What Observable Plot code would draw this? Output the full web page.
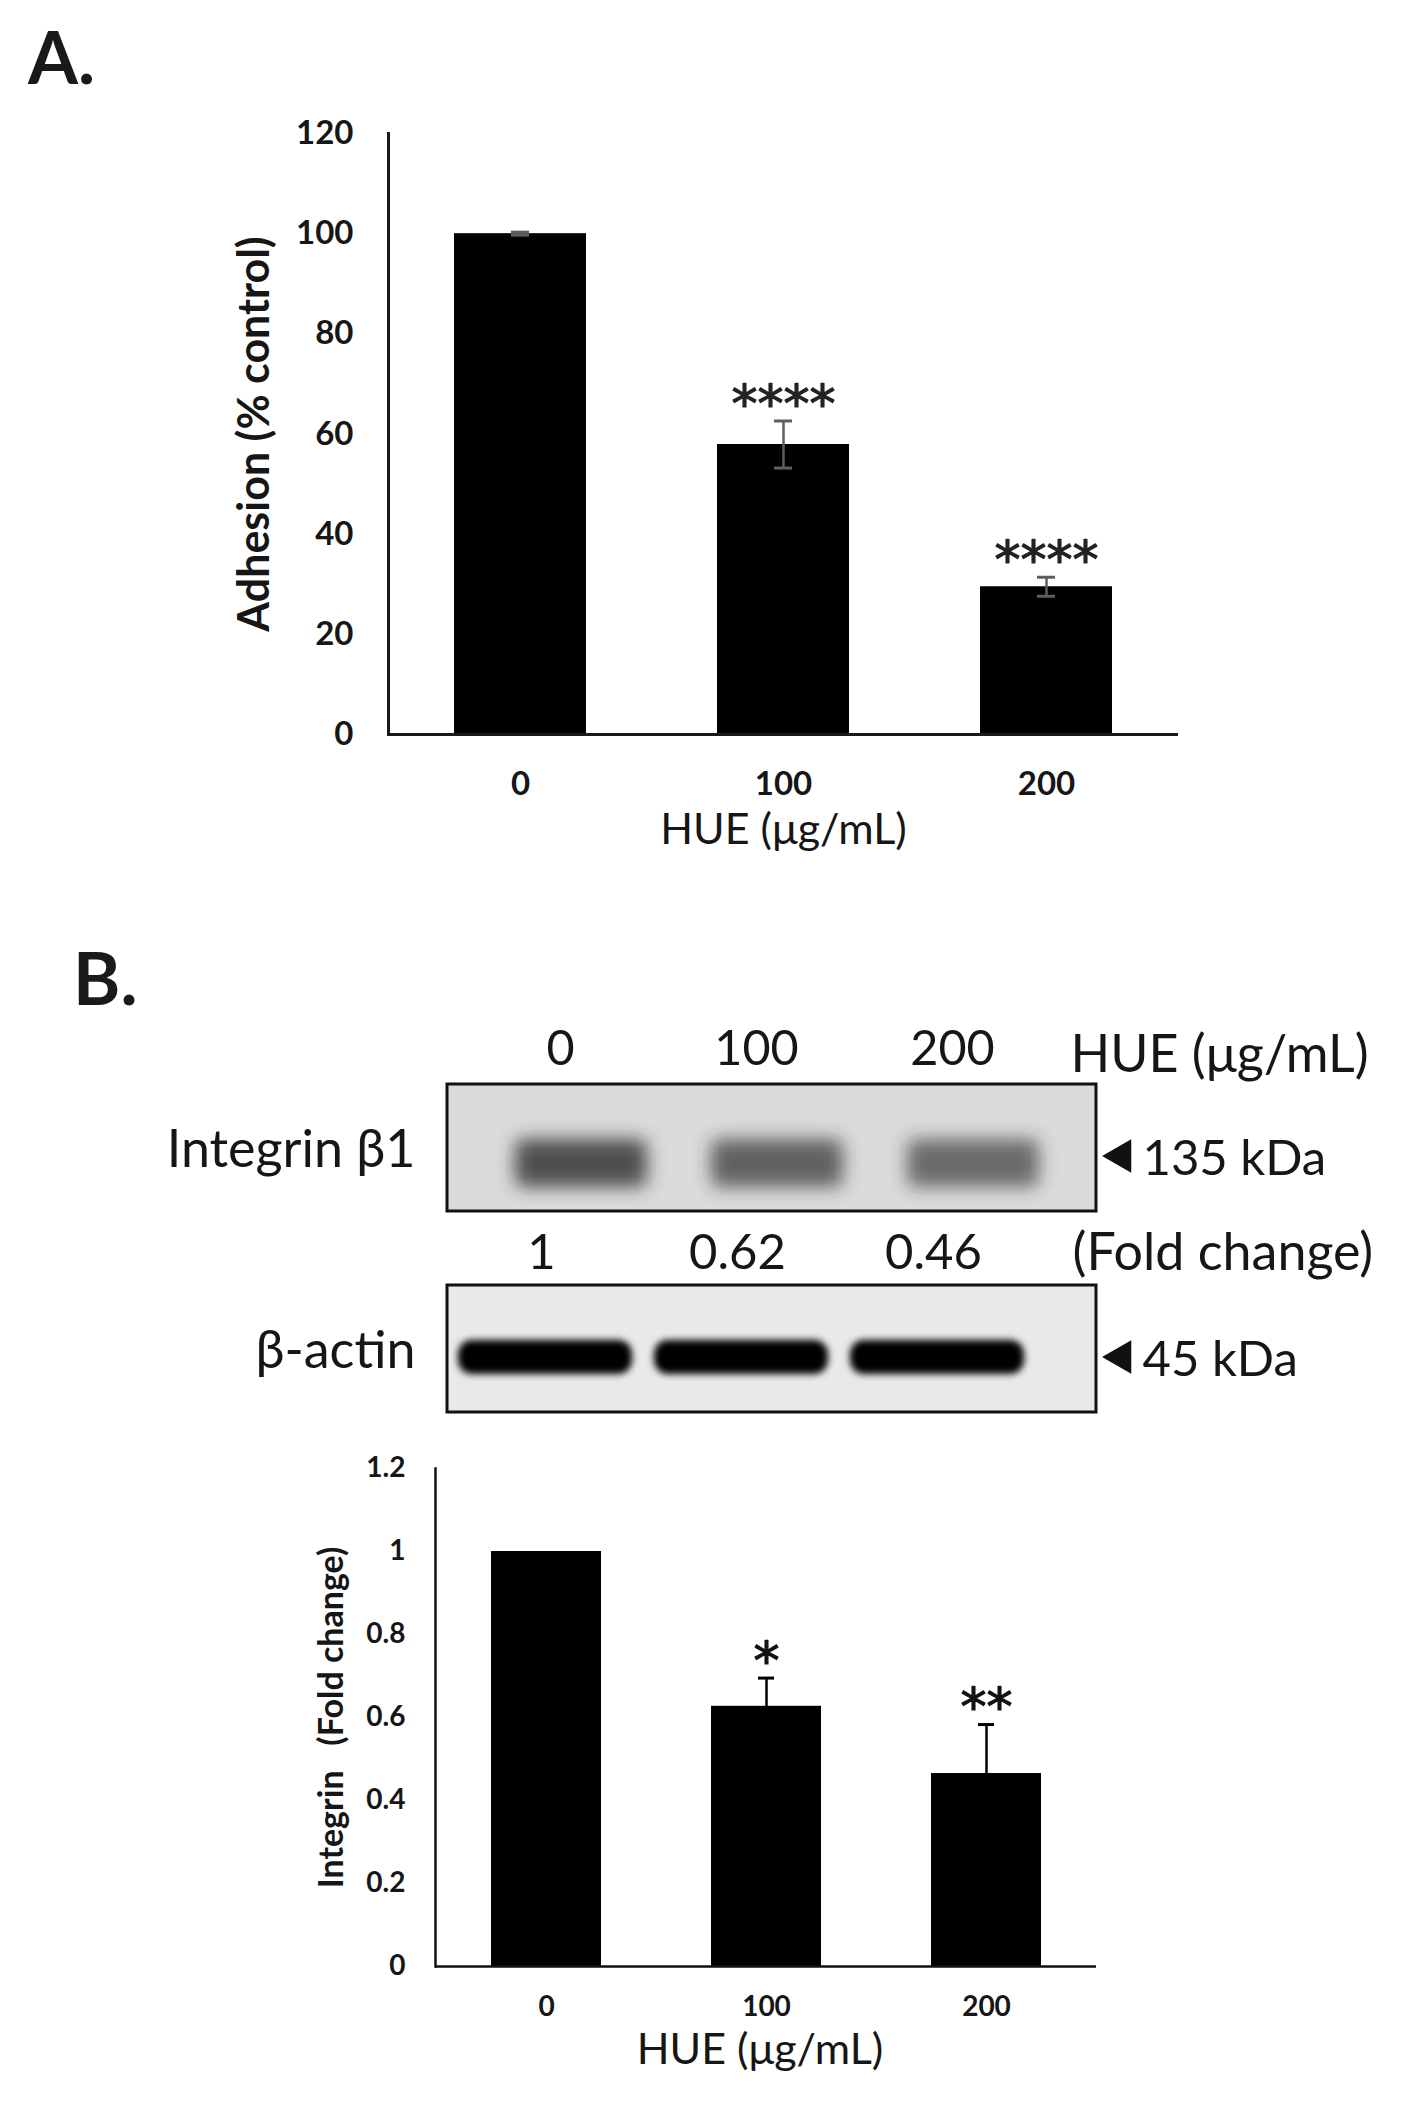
<!DOCTYPE html>
<html><head><meta charset="utf-8">
<script src="https://cdn.jsdelivr.net/npm/d3@7"></script>
<script src="https://cdn.jsdelivr.net/npm/@observablehq/plot@0.6"></script>
<style>
html,body{margin:0;padding:0;background:#fff;}
#fig{position:relative;width:1408px;height:2113px;overflow:hidden;font-family:Lato,"Open Sans",sans-serif;color:#161616;}
.panel{position:absolute;left:0;}
.tag{position:absolute;font-family:Lato,sans-serif;font-weight:700;font-size:72px;line-height:72px;color:#1a1a1a;}
</style></head>
<body><div id="fig"></div>
<script>
// ---------- Panel A: adhesion ----------
const doses = ["0", "100", "200"];
const adhesion = [100, 57.9, 29.5];
const adhesionErr = [0.3, 4.7, 1.9];
const adhesionSig = ["", "****", "****"];
const adhesionTicks = [0, 20, 40, 60, 80, 100, 120];

// ---------- Panel B: western blot ----------
const blotRows = ["Integrin β1", "β-actin"];
const blotSizes = ["135 kDa", "45 kDa"];
const foldChange = [1, 0.62, 0.46];
const foldLabels = ["1", "0.62", "0.46"];
const actinLevel = [1, 1, 1];

// ---------- Panel B: integrin quantification ----------
const integrin = [1, 0.627, 0.465];
const integrinErr = [0, 0.068, 0.118];
const integrinSig = ["", "*", "**"];
const integrinTicks = [0, 0.2, 0.4, 0.6, 0.8, 1, 1.2];

const fig = document.getElementById("fig");
const ink = "#161616";

function place(node, top) {
  node.classList.add("panel");
  node.style.top = top + "px";
  fig.appendChild(node);
}
function tag(text, left, top) {
  const d = document.createElement("div");
  d.className = "tag";
  d.textContent = text;
  d.style.left = left + "px";
  d.style.top = top + "px";
  fig.appendChild(d);
}

// ---- Chart A ----
const dataA = doses.map((d, i) => ({dose: d, v: adhesion[i], lo: adhesion[i] - adhesionErr[i], hi: adhesion[i] + adhesionErr[i], sig: adhesionSig[i]}));
const plotA = Plot.plot({
  width: 1408, height: 880,
  marginLeft: 388, marginRight: 230, marginTop: 133, marginBottom: 146,
  style: {fontFamily: "Lato, sans-serif", background: "transparent", color: ink},
  x: {type: "band", domain: doses, paddingInner: 0.5, paddingOuter: 0.25},
  y: {domain: [0, 120]},
  marks: [
    Plot.barY(dataA, {x: "dose", y: "v", fill: "#000"}),
    Plot.ruleX(dataA, {x: "dose", y1: "lo", y2: "hi", stroke: "#5e5e5e", strokeWidth: 2.5}),
    Plot.tickY(dataA, {x: "dose", y: "hi", stroke: "#5e5e5e", strokeWidth: 3, insetLeft: 57, insetRight: 57}),
    Plot.tickY(dataA, {x: "dose", y: "lo", stroke: "#5e5e5e", strokeWidth: 3, insetLeft: 57, insetRight: 57}),
    Plot.text(dataA, {x: "dose", y: "hi", text: "sig", dy: -16, fontSize: 52, fontFamily: "DejaVu Sans", fill: "#222", stroke: "#222", strokeWidth: 1.2}),
    Plot.axisY(adhesionTicks, {tickSize: 0, tickPadding: 35, fontSize: 33, fontWeight: "bold", label: null}),
    Plot.axisX({tickSize: 0, tickPadding: 37, fontSize: 33, fontWeight: "bold", label: null}),
    Plot.ruleY([0], {stroke: "#1a1a1a", strokeWidth: 3}),
    Plot.frame({anchor: "left", stroke: "#1a1a1a", strokeWidth: 3}),
    Plot.text(["HUE (μg/mL)"], {frameAnchor: "bottom", lineAnchor: "middle", dy: 96, fontSize: 43}),
    Plot.text(["Adhesion (% control)"], {frameAnchor: "left", textAnchor: "middle", lineAnchor: "middle", rotate: -90, dx: -133, fontSize: 43, fontWeight: "bold"})
  ]
});
place(plotA, 0);

// ---- Blot ----
const intBands = doses.map((d, i) => ({lane: d, row: blotRows[0], level: foldChange[i]}));
const actBands = doses.map((d, i) => ({lane: d, row: blotRows[1], level: actinLevel[i]}));
const foldText = doses.map((d, i) => ({lane: d, label: foldLabels[i]}));
const plotBlot = Plot.plot({
  width: 1408, height: 420,
  marginLeft: 447, marginRight: 312, marginTop: 84, marginBottom: 7,
  style: {fontFamily: "Lato, sans-serif", background: "transparent", color: ink},
  x: {type: "band", domain: doses, range: [462, 1050], padding: 0},
  y: {type: "band", domain: blotRows, paddingInner: 0.367, paddingOuter: 0},
  marks: [
    Plot.cell(blotRows, {y: d => d, fill: d => d === blotRows[0] ? "#dbdbdb" : "#e9e9e9"}),
    Plot.cell(intBands, {x: "lane", y: "row", fill: "#2e2e2e", fillOpacity: d => 0.52 + 0.3 * d.level, insetLeft: 32, insetRight: 32, insetTop: 55, insetBottom: 24, dx: 21, rx: 8}),
    Plot.cell(actBands, {x: "lane", y: "row", fill: "#030303", fillOpacity: d => d.level, insetLeft: 11, insetRight: 11, insetTop: 55, insetBottom: 38, dx: -15, rx: 14}),
    Plot.cell(blotRows, {y: d => d, fill: "none", stroke: "#111", strokeWidth: 3}),
    Plot.dot(blotRows, {y: d => d, frameAnchor: "right", symbol: "triangle", rotate: -90, r: 12.5, fill: "#111", stroke: "none", dx: 25, dy: 8}),
    Plot.axisY({anchor: "right", tickSize: 0, tickPadding: 46, tickFormat: d => blotSizes[blotRows.indexOf(d)], fontSize: 49, dy: 11, label: null}),
    Plot.axisY({anchor: "left", tickSize: 0, tickPadding: 32, fontSize: 52, dy: 2, label: null}),
    Plot.axisX({anchor: "top", tickSize: 0, tickPadding: 20, fontSize: 48.5, label: null}),
    Plot.text(foldText, {x: "lane", text: "label", frameAnchor: "middle", lineAnchor: "middle", dx: -19, dy: 4, fontSize: 49}),
    Plot.text(["(Fold change)"], {frameAnchor: "right", textAnchor: "start", lineAnchor: "middle", dx: -24, dy: 4, fontSize: 52}),
    Plot.text(["HUE (μg/mL)"], {frameAnchor: "top-right", textAnchor: "start", lineAnchor: "middle", dx: -26, dy: -29, fontSize: 52})
  ]
});
{
  const svg = d3.select(plotBlot);
  const defs = svg.insert("defs", ":first-child");
  const mk = (id, s) => defs.append("filter").attr("id", id)
    .attr("x", "-20%").attr("y", "-100%").attr("width", "140%").attr("height", "300%")
    .append("feGaussianBlur").attr("stdDeviation", s);
  mk("blurInt", 9);
  mk("blurAct", 3.5);
  const cells = svg.selectAll('g[aria-label="cell"]').nodes();
  if (cells[1]) cells[1].setAttribute("filter", "url(#blurInt)");
  if (cells[2]) cells[2].setAttribute("filter", "url(#blurAct)");
}
place(plotBlot, 1000);

// ---- Chart B ----
const dataB = doses.map((d, i) => ({dose: d, v: integrin[i], lo: integrin[i] - integrinErr[i], hi: integrin[i] + integrinErr[i], sig: integrinSig[i]}));
const plotB = Plot.plot({
  width: 1408, height: 693,
  marginLeft: 435, marginRight: 312, marginTop: 48, marginBottom: 147,
  style: {fontFamily: "Lato, sans-serif", background: "transparent", color: ink},
  x: {type: "band", domain: doses, paddingInner: 0.5, paddingOuter: 0.25},
  y: {domain: [0, 1.2]},
  marks: [
    Plot.barY(dataB, {x: "dose", y: "v", fill: "#000"}),
    Plot.ruleX(dataB.filter(d => d.hi > d.v), {x: "dose", y1: "lo", y2: "hi", stroke: "#000", strokeWidth: 2.5}),
    Plot.tickY(dataB.filter(d => d.hi > d.v), {x: "dose", y: "hi", stroke: "#000", strokeWidth: 3, insetLeft: 47, insetRight: 47}),
    Plot.text(dataB, {x: "dose", y: "hi", text: "sig", dy: -16, fontSize: 52, fontFamily: "DejaVu Sans", fill: "#111", stroke: "#111", strokeWidth: 1.2}),
    Plot.axisY(integrinTicks, {tickSize: 0, tickPadding: 30, fontSize: 28, fontWeight: "bold", tickFormat: d3.format("~g"), label: null}),
    Plot.axisX({tickSize: 0, tickPadding: 30, fontSize: 28, fontWeight: "bold", label: null}),
    Plot.ruleY([0], {stroke: "#111", strokeWidth: 2.5}),
    Plot.frame({anchor: "left", stroke: "#111", strokeWidth: 2.5}),
    Plot.text(["HUE (μg/mL)"], {frameAnchor: "bottom", lineAnchor: "middle", dy: 84, dx: -6, fontSize: 43}),
    Plot.text(["Integrin\u00a0\u00a0\u00a0(Fold change)"], {frameAnchor: "left", textAnchor: "middle", lineAnchor: "middle", rotate: -90, dx: -103, dy: 0, fontSize: 34, fontWeight: "bold"})
  ]
});
place(plotB, 1420);

tag("A.", 28, 20);
tag("B.", 73, 941);
</script>
</body></html>
